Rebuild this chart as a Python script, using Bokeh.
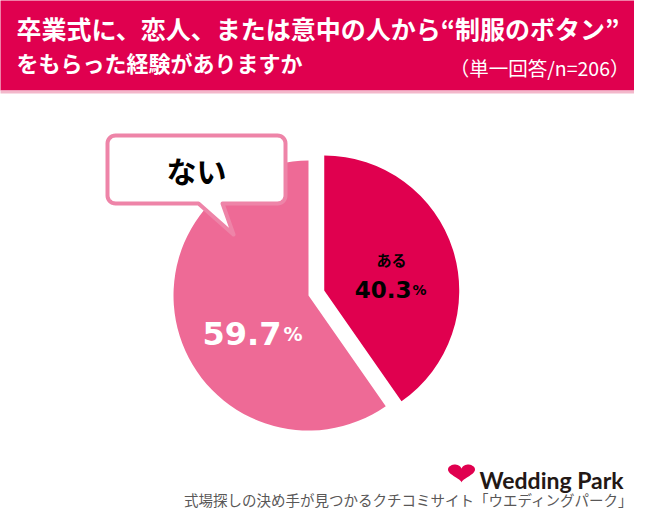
import numpy as np
from bokeh.plotting import figure
from bokeh.models import Range1d
from bokeh.core.properties import value
from bokeh.embed import file_html
from bokeh.resources import INLINE

# ---- data ----
categories = ["ある", "ない"]
shares = [40.3, 59.7]
title_lines = ["卒業式に、恋人、または意中の人から“制服のボタン”", "をもらった経験がありますか"]
subtitle = "（単一回答/n=206）"
footer = "式場探しの決め手が見つかるクチコミサイト「ウエディングパーク」"
brand = "Wedding Park"

# ---- styles ----
HEADER = "#E0004F"
DARK = "#E0004F"
PINK = "#EE6A96"
CALLOUT_EDGE = "#EE84A8"
JP = value("Noto Sans CJK JP")
NUM = value("DejaVu Sans")

H = 526  # reference height, y measured downward in reference


def Y(y):
    return float(H - y)


p = figure(width=634, height=510, x_range=Range1d(0, 634), y_range=Range1d(16, 526),
           output_backend="svg", toolbar_location=None,
           x_axis_type=None, y_axis_type=None, min_border=0)
p.outline_line_color = None
p.background_fill_color = "white"
p.border_fill_color = "white"

# header band
p.quad(left=-10, right=660, bottom=Y(90), top=Y(-10), color=HEADER, line_color=None)
p.quad(left=-10, right=660, bottom=Y(93), top=Y(90), color="#F3B8CB", line_color=None)

p.text(x=[16], y=[Y(27)], text=[title_lines[0]], text_font=JP, text_font_style="bold",
       text_font_size="25px", text_color="white", text_baseline="middle", text_align="left")
p.text(x=[16], y=[Y(61)], text=[title_lines[1]], text_font=JP, text_font_style="bold",
       text_font_size="22px", text_color="white", text_baseline="middle", text_align="left")
p.text(x=[629], y=[Y(67)], text=[subtitle], text_font=JP,
       text_font_size="19.5px", text_color="white", text_baseline="middle", text_align="right")

# ---- pie ----
vals = np.array(shares, dtype=float)
frac = vals / vals.sum()
cum = np.concatenate([[0.0], np.cumsum(frac)])
start_cw = cum[:-1] * 2 * np.pi
end_cw = cum[1:] * 2 * np.pi
mid = (start_cw + end_cw) / 2
explode = np.array([16.5, 0.0])
cx, cy, R = 308.0, 295.0, 135.0
xs = cx + explode * np.sin(mid)
ys = Y(cy) + explode * np.cos(mid)
p.wedge(x=xs, y=ys, radius=R, start_angle=np.pi / 2 - start_cw, end_angle=np.pi / 2 - end_cw,
        direction="clock", fill_color=[DARK, PINK], line_color=None)

# slice labels
p.text(x=[391], y=[Y(259)], text=[categories[0]], text_font=JP, text_font_style="bold",
       text_font_size="15px", text_color="black", text_baseline="middle", text_align="center")
p.text(x=[411], y=[Y(289)], text=[f"{shares[0]:.1f}"], text_font=NUM, text_font_style="bold",
       text_font_size="23px", text_color="black", text_baseline="alphabetic", text_align="right")
p.text(x=[412], y=[Y(289)], text=["%"], text_font=NUM, text_font_style="bold",
       text_font_size="14px", text_color="black", text_baseline="alphabetic", text_align="left")
p.text(x=[281], y=[Y(333)], text=[f"{shares[1]:.1f}"], text_font=NUM, text_font_style="bold",
       text_font_size="32px", text_color="white", text_baseline="alphabetic", text_align="right")
p.text(x=[283], y=[Y(333)], text=["%"], text_font=NUM, text_font_style="bold",
       text_font_size="19px", text_color="white", text_baseline="alphabetic", text_align="left")

# ---- callout bubble ----
def bubble(l, t, r, b, rad, tail):
    pts = []

    def arc(ccx, ccy, a0, a1):
        for a in np.linspace(a0, a1, 9):
            pts.append((ccx + rad * np.cos(a), ccy + rad * np.sin(a)))

    arc(l + rad, t + rad, np.pi, 1.5 * np.pi)
    arc(r - rad, t + rad, 1.5 * np.pi, 2 * np.pi)
    arc(r - rad, b - rad, 0, 0.5 * np.pi)
    pts.extend(tail)
    arc(l + rad, b - rad, 0.5 * np.pi, np.pi)
    px = [q[0] for q in pts]
    py = [Y(q[1]) for q in pts]
    return px, py

bx, by = bubble(107, 135, 285, 203, 8, [(222, 203), (233, 234), (198, 203)])
p.patch(bx, by, fill_color="white", line_color=CALLOUT_EDGE, line_width=4, line_join="round")
p.text(x=[196], y=[Y(169)], text=[categories[1]], text_font=JP, text_font_style="bold",
       text_font_size="30px", text_color="black", text_baseline="middle", text_align="center")

# ---- logo (nudged to fit the 634x510 canvas) ----
t = np.linspace(0, 2 * np.pi, 80)
hx = 16 * np.sin(t) ** 3
hy = 13 * np.cos(t) - 5 * np.cos(2 * t) - 2 * np.cos(3 * t) - np.cos(4 * t)
hx = 461 + hx * (27 / 32)
hy = Y(473) + (hy + 2.5) * (18 / 29)
p.patch(hx, hy, fill_color=DARK, line_color=None)
p.text(x=[479], y=[Y(479)], text=[brand], text_font=value("Lato"), text_font_style="bold",
       text_font_size="23px", text_color="#231815", text_baseline="alphabetic", text_align="left")

p.text(x=[633], y=[Y(499)], text=[footer], text_font=JP,
       text_font_size="14.5px", text_color="#595757", text_baseline="middle", text_align="right")

open("out.html", "w").write(file_html(p, INLINE))
